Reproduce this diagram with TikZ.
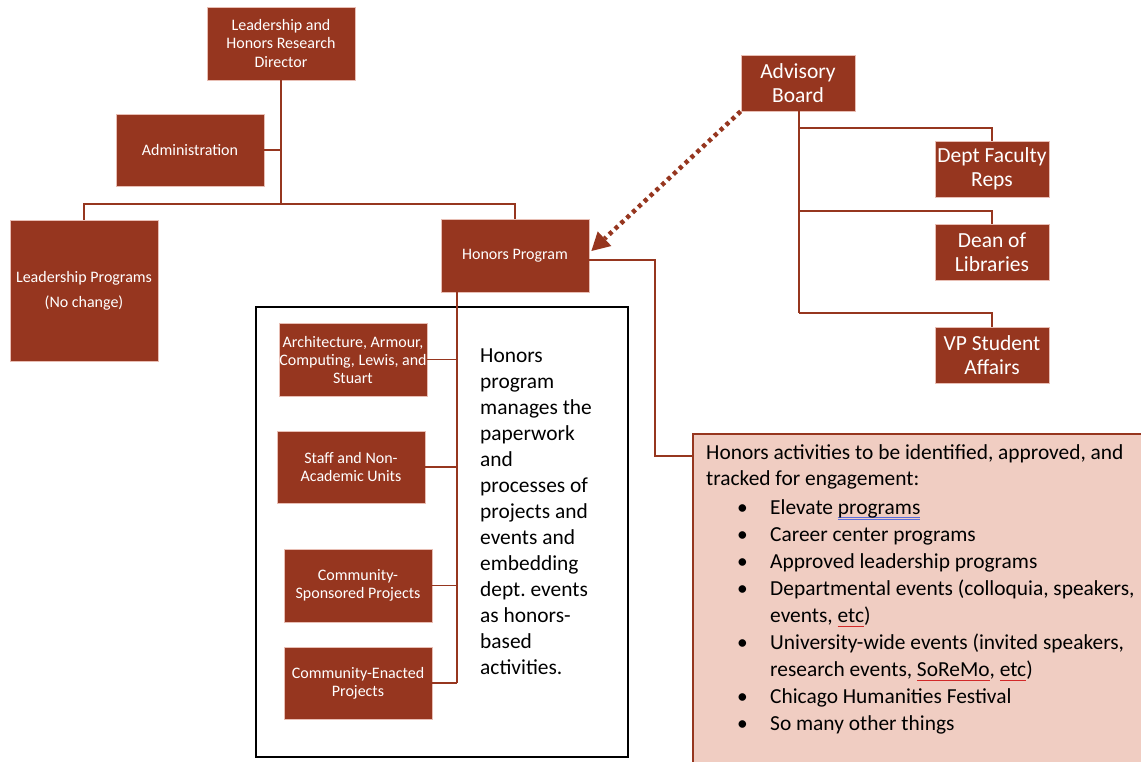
\documentclass[tikz,border=0pt]{standalone}
\usepackage{fontspec}
\setmainfont{Carlito}
\usetikzlibrary{arrows.meta}
\definecolor{brn}{RGB}{150,54,31}
\definecolor{brnedge}{RGB}{232,190,180}
\definecolor{pinkfill}{RGB}{240,205,194}
\definecolor{spellblue}{RGB}{90,110,220}
\definecolor{spellred}{RGB}{210,40,40}
\newcommand\bluesq[1]{\setbox0\hbox{#1}\rlap{\raisebox{-5.2pt}{\color{spellblue}\rule{\wd0}{0.6pt}}}\rlap{\raisebox{-3.8pt}{\color{spellblue}\rule{\wd0}{0.6pt}}}\box0}
\newcommand\redsq[1]{\setbox0\hbox{#1}\rlap{\raisebox{-5pt}{\hbox to \wd0{\color{spellred}\xleaders\hbox{\rule[0pt]{0.9pt}{0.6pt}\rule[0.6pt]{0.9pt}{0.6pt}}\hfill}}}\box0}
\begin{document}
\begin{tikzpicture}[x=1pt,y=-1pt,
  bx/.style={fill=brn,draw=brnedge,line width=0.8pt,text=white,align=center,inner sep=0pt,
    font=\fontsize{16}{18}\selectfont},
  bigbx/.style={bx,font=\fontsize{21.5}{24}\selectfont,minimum width=114,minimum height=56},
  conn/.style={draw=brn,line width=1.8pt},
  thinconn/.style={draw=brn,line width=1.4pt},
  dotarrow/.style={draw=brn,line width=4.5pt,dash pattern=on 4pt off 4pt,
    -{Triangle[length=18pt,width=20pt,line width=0pt]}},
]
\useasboundingbox (0,0) rectangle (1141,761);
% outline box and pink box
\node[draw=black,line width=1.6pt,minimum width=372,minimum height=450,anchor=north west,inner sep=0pt] (frame) at (255,306) {};
\node[fill=pinkfill,draw=brn,line width=1.5pt,minimum width=460,minimum height=340,anchor=north west,inner sep=0pt] (act) at (692,433) {};
% org boxes
\node[bx,minimum width=148,minimum height=73] (top) at (281,43.5) {Leadership and\\Honors Research\\Director};
\node[bx,minimum width=148,minimum height=72] (adm) at (190,150) {Administration};
\node[bx,minimum width=148,minimum height=141] (lp) at (84,290.5) {Leadership Programs\\[7pt](No change)};
\node[bx,minimum width=148,minimum height=73] (hp) at (515,255.5) {Honors Program};
\node[bx,minimum width=148,minimum height=73] (arch) at (353,359.5) {Architecture, Armour,\\Computing, Lewis, and\\Stuart};
\node[bx,minimum width=148,minimum height=72] (staff) at (351,467) {Staff and Non-\\Academic Units};
\node[bx,minimum width=148,minimum height=73] (cs) at (358,585.5) {Community-\\Sponsored Projects};
\node[bx,minimum width=148,minimum height=72] (ce) at (358,683) {Community-Enacted\\Projects};
\node[bigbx] (adv) at (798,83) {Advisory\\Board};
\node[bigbx] (dept) at (992,169) {Dept Faculty\\Reps};
\node[bigbx] (dean) at (992,252) {Dean of\\Libraries};
\node[bigbx] (vp) at (992,355) {VP Student\\Affairs};
% texts
\node[anchor=north west,align=left,inner sep=0pt,font=\fontsize{21.4}{26}\selectfont] (htext) at (480,349)
  {Honors\\program\\manages the\\paperwork\\and\\processes of\\projects and\\events and\\embedding\\dept.\ events\\as honors-\\based\\activities.};
\node[anchor=north west,align=left,inner sep=0pt,font=\fontsize{21.4}{27}\selectfont] (atext) at (706,444)
  {Honors activities to be identified, approved, and\\[-1pt]
   tracked for engagement:\\[2pt]
   \hspace*{31pt}\makebox[33pt][l]{\textbullet}Elevate \bluesq{programs}\\
   \hspace*{31pt}\makebox[33pt][l]{\textbullet}Career center programs\\
   \hspace*{31pt}\makebox[33pt][l]{\textbullet}Approved leadership programs\\
   \hspace*{31pt}\makebox[33pt][l]{\textbullet}Departmental events (colloquia, speakers,\\
   \hspace*{64pt}events, \redsq{etc})\\
   \hspace*{31pt}\makebox[33pt][l]{\textbullet}University-wide events (invited speakers,\\
   \hspace*{64pt}research events, \redsq{SoReMo}, \redsq{etc})\\
   \hspace*{31pt}\makebox[33pt][l]{\textbullet}Chicago Humanities Festival\\
   \hspace*{31pt}\makebox[33pt][l]{\textbullet}So many other things};
% junctions
\coordinate (jt) at (281,204);
\coordinate (hvtop) at (457,292);
\coordinate (hvbot) at (457,683);
\coordinate (avbot) at (799,313);
\coordinate (avtop) at (799,111);
\coordinate (j1) at (799,128);
\coordinate (j2) at (799,211);
\coordinate (hpturn) at (655,260);
\coordinate (actin) at (692,456);
% tree connectors
\draw[conn] (top.south) -- (jt);
\draw[conn] (adm.east) -- (adm.east -| jt);
\draw[conn] (lp.north) |- (jt) -| (hp.north);
\draw[conn] (hvtop) -- (hvbot);
\draw[conn] (arch.east) -- (arch.east -| hvtop);
\draw[conn] (staff.east) -- (staff.east -| hvtop);
\draw[conn] (cs.east) -- (cs.east -| hvtop);
\draw[conn] (ce.east) -- (hvbot);
% advisory connectors
\draw[conn] (avtop) -- (avbot);
\draw[conn] (j1) -| (dept.north);
\draw[conn] (j2) -| (dean.north);
\draw[conn] (avbot) -| (vp.north);
% honors to activities
\draw[thinconn] (hpturn -| hp.east) -- (hpturn) |- (actin);
% dotted arrow
\draw[dotarrow] (adv.south west) -- ([xshift=2pt,yshift=4.5pt]hp.east);
\end{tikzpicture}
\end{document}
